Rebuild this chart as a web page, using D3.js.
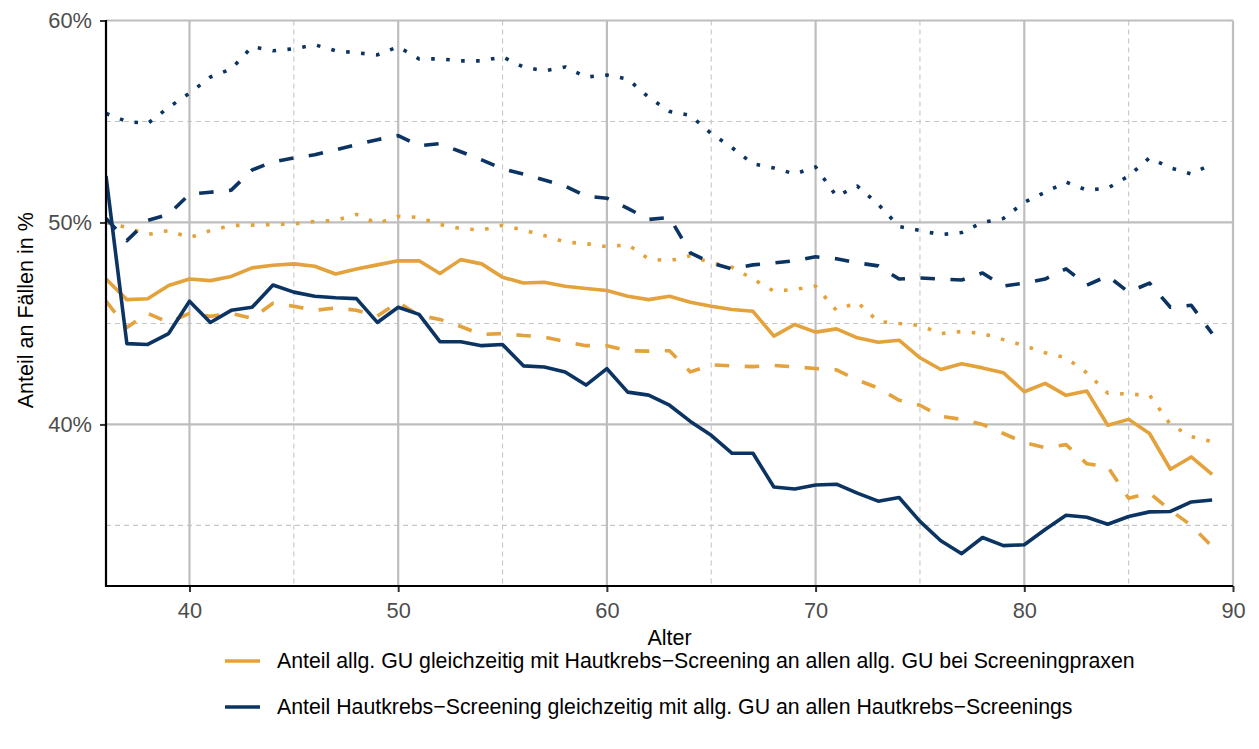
<!DOCTYPE html>
<html>
<head>
<meta charset="utf-8">
<script src="https://cdn.jsdelivr.net/npm/d3@7"></script>
<style>
  html, body { margin: 0; padding: 0; background: #fff; }
  svg { display: block; font-family: "Liberation Sans", Arial, Helvetica, sans-serif; }
</style>
</head>
<body>
<svg id="chart" width="1259" height="749"></svg>
<script>
// ---------------- data ----------------
const ages = [36,37,38,39,40,41,42,43,44,45,46,47,48,49,50,51,52,53,54,55,56,57,58,59,60,61,62,63,64,65,66,67,68,69,70,71,72,73,74,75,76,77,78,79,80,81,82,83,84,85,86,87,88,89];

// Anteil allg. GU gleichzeitig mit Hautkrebs-Screening ... (orange)
const orangeSolid = [47.2,46.18,46.22,46.88,47.2,47.12,47.33,47.75,47.88,47.95,47.83,47.45,47.7,47.9,48.1,48.1,47.47,48.16,47.95,47.29,47.0,47.04,46.84,46.73,46.63,46.35,46.18,46.35,46.05,45.85,45.69,45.6,44.37,44.95,44.57,44.73,44.29,44.07,44.17,43.3,42.72,43.0,42.8,42.56,41.62,42.03,41.44,41.65,39.96,40.25,39.55,37.78,38.39,37.53];
const orangeDashed = [46.1,44.8,45.5,45.05,45.5,45.35,45.5,45.25,46.0,45.85,45.65,45.77,45.65,45.36,46.05,45.4,45.2,44.85,44.45,44.5,44.4,44.33,44.1,43.9,43.9,43.65,43.63,43.65,42.6,42.95,42.9,42.86,42.92,42.85,42.77,42.7,42.2,41.8,41.2,40.95,40.4,40.25,40.0,39.55,39.1,38.85,39.0,38.05,37.9,36.35,36.6,35.75,35.0,33.95];
const orangeDotted = [50.0,49.75,49.4,49.6,49.25,49.6,49.85,49.87,49.9,49.93,50.05,50.1,50.4,49.95,50.3,50.25,49.9,49.7,49.62,49.86,49.62,49.35,49.03,48.95,48.8,48.9,48.2,48.1,48.35,48.0,47.78,47.2,46.6,46.68,46.85,45.65,46.05,45.1,45.0,44.9,44.5,44.6,44.5,44.2,43.9,43.55,43.3,42.55,41.55,41.5,41.45,40.0,39.4,39.15];

// Anteil Hautkrebs-Screening gleichzeitig mit allg. GU ... (navy)
const navySolid = [52.3,44.0,43.96,44.5,46.1,45.05,45.65,45.8,46.9,46.55,46.35,46.27,46.23,45.05,45.8,45.45,44.1,44.09,43.9,43.96,42.9,42.84,42.6,41.95,42.76,41.6,41.45,40.95,40.15,39.46,38.57,38.57,36.9,36.8,37.0,37.04,36.6,36.2,36.38,35.2,34.24,33.6,34.4,34.0,34.04,34.8,35.5,35.4,35.06,35.44,35.67,35.69,36.16,36.26];
const navyDashed = [50.2,49.1,50.1,50.4,51.4,51.5,51.6,52.6,53.0,53.2,53.35,53.6,53.85,54.1,54.3,53.8,53.9,53.5,53.1,52.66,52.4,52.1,51.8,51.3,51.2,50.7,50.15,50.25,48.5,48.0,47.7,47.9,48.0,48.1,48.3,48.2,48.0,47.85,47.2,47.25,47.2,47.15,47.5,46.85,47.0,47.2,47.7,46.9,47.35,46.55,47.0,45.8,45.9,44.5];
const navyDotted = [55.4,55.0,54.9,55.7,56.4,57.2,57.6,58.7,58.5,58.6,58.8,58.5,58.4,58.3,58.7,58.1,58.1,58.0,58.0,58.2,57.7,57.5,57.7,57.2,57.3,57.1,56.2,55.5,55.3,54.4,53.7,52.9,52.7,52.4,52.75,51.3,51.8,50.9,49.8,49.6,49.4,49.5,50.0,50.2,51.0,51.5,52.0,51.6,51.7,52.3,53.2,52.7,52.4,52.9];

const xMajorTicks = [40,50,60,70,80,90];
const xMinorTicks = [45,55,65,75,85];
const yMajorTicks = [40,50,60];
const yMinorTicks = [35,45,55];

const legendLabels = [
  "Anteil allg. GU gleichzeitig mit Hautkrebs\u2212Screening an allen allg. GU bei Screeningpraxen",
  "Anteil Hautkrebs\u2212Screening gleichzeitig mit allg. GU an allen Hautkrebs\u2212Screenings"
];
const xTitle = "Alter";
const yTitle = "Anteil an Fällen in %";

// ---------------- layout ----------------
const ORANGE = "#E3A23B";
const NAVY = "#0C3462";
const svg = d3.select("#chart");
const pLeft = 106, pRight = 1233, pTop = 20.5, pBottom = 586;

const x = d3.scaleLinear().domain([36, 90]).range([pLeft, pRight]);
const y = d3.scaleLinear().domain([32, 60]).range([pBottom, pTop]);

// clip
svg.append("defs").append("clipPath").attr("id", "plotclip")
  .append("rect").attr("x", pLeft).attr("y", pTop - 2).attr("width", pRight - pLeft + 2).attr("height", pBottom - pTop + 2);

const grid = svg.append("g");
grid.selectAll(".ymin").data(yMinorTicks).join("line")
  .attr("x1", pLeft).attr("x2", pRight).attr("y1", d => y(d)).attr("y2", d => y(d))
  .attr("stroke", "#c6c6c6").attr("stroke-width", 1.1).attr("stroke-dasharray", "5,4");
grid.selectAll(".xmin").data(xMinorTicks).join("line")
  .attr("y1", pTop).attr("y2", pBottom).attr("x1", d => x(d)).attr("x2", d => x(d))
  .attr("stroke", "#c6c6c6").attr("stroke-width", 1.1).attr("stroke-dasharray", "5,4");
grid.selectAll(".ymaj").data(yMajorTicks).join("line")
  .attr("x1", pLeft).attr("x2", pRight).attr("y1", d => y(d)).attr("y2", d => y(d))
  .attr("stroke", "#bebebe").attr("stroke-width", 2.2);
grid.selectAll(".xmaj").data(xMajorTicks).join("line")
  .attr("y1", pTop).attr("y2", pBottom).attr("x1", d => x(d)).attr("x2", d => x(d))
  .attr("stroke", "#bebebe").attr("stroke-width", 2.2);

// series
const series = [
  { values: orangeDotted, color: ORANGE, dash: "3.6,11.4" },
  { values: orangeDashed, color: ORANGE, dash: "14.5,15.5" },
  { values: orangeSolid, color: ORANGE, dash: null },
  { values: navyDotted, color: NAVY, dash: "3.6,11.4" },
  { values: navyDashed, color: NAVY, dash: "14.5,15.5" },
  { values: navySolid, color: NAVY, dash: null }
];
const line = d3.line().x(d => x(d[0])).y(d => y(d[1]));
const lines = svg.append("g").attr("clip-path", "url(#plotclip)");
series.forEach(s => {
  lines.append("path")
    .datum(ages.map((a, i) => [a, s.values[i]]))
    .attr("d", line)
    .attr("fill", "none")
    .attr("stroke", s.color)
    .attr("stroke-width", 3.6)
    .attr("stroke-linejoin", "round")
    .attr("stroke-linecap", "butt")
    .attr("stroke-dasharray", s.dash);
});

// axes
const yAxis = svg.append("g").attr("transform", `translate(${pLeft},0)`)
  .call(d3.axisLeft(y).tickValues(yMajorTicks).tickFormat(d => d + "%").tickSize(6).tickPadding(8));
const xAxis = svg.append("g").attr("transform", `translate(0,${pBottom})`)
  .call(d3.axisBottom(x).tickValues(xMajorTicks).tickSize(6).tickPadding(10.5));
[yAxis, xAxis].forEach(g => {
  g.select(".domain").remove();
  g.selectAll(".tick line").attr("stroke", "#333").attr("stroke-width", 2);
  g.selectAll(".tick text").attr("fill", "#4d4d4d").style("font-size", "21.8px")
    .style("font-family", '"Liberation Sans", Arial, sans-serif');
});
svg.append("line").attr("x1", pLeft).attr("x2", pLeft).attr("y1", pTop - 0.5).attr("y2", pBottom + 1)
  .attr("stroke", "#000").attr("stroke-width", 2.2);
svg.append("line").attr("x1", pLeft - 1).attr("x2", pRight).attr("y1", pBottom).attr("y2", pBottom)
  .attr("stroke", "#000").attr("stroke-width", 2.2);

// titles
svg.append("text").attr("x", (pLeft + pRight) / 2).attr("y", 645)
  .attr("text-anchor", "middle").attr("fill", "#000").style("font-size", "21.5px").text(xTitle);
svg.append("text").attr("transform", `translate(33,${(pTop + pBottom) / 2 + 7}) rotate(-90)`)
  .attr("text-anchor", "middle").attr("fill", "#000").style("font-size", "21.5px").text(yTitle);

// legend
const legendColors = [ORANGE, NAVY];
const legendY = [661, 707];
const lg = svg.append("g");
legendLabels.forEach((lab, i) => {
  lg.append("line").attr("x1", 225).attr("x2", 260).attr("y1", legendY[i]).attr("y2", legendY[i])
    .attr("stroke", legendColors[i]).attr("stroke-width", 3.6);
  lg.append("text").attr("x", 277).attr("y", legendY[i]).attr("dy", "0.35em")
    .attr("fill", "#000").style("font-size", "21.3px").text(lab);
});
</script>
</body>
</html>
